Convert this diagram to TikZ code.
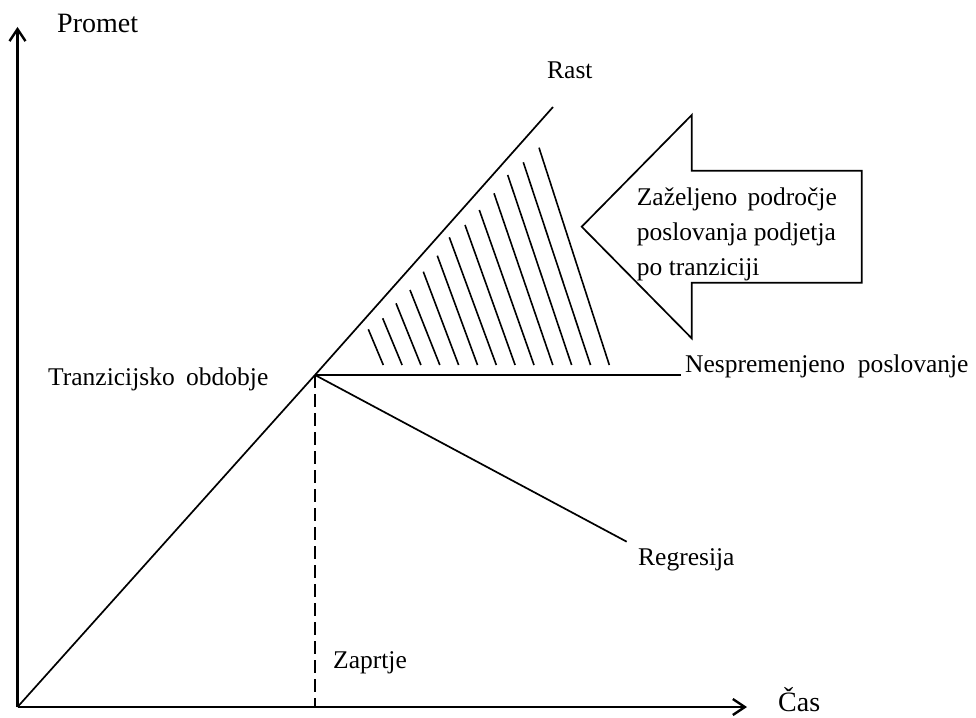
\documentclass[tikz,border=0pt]{standalone}
\usepackage{fontspec}
\setmainfont{Liberation Serif}
\usetikzlibrary{arrows.meta}
\begin{document}
\begin{tikzpicture}[x=1pt,y=-1pt,
  axis/.style={line width=2.6pt,-{Straight Barb[length=12pt,width=16pt,line width=2.4pt]}},
  curve/.style={line width=1.7pt},
  hatch/.style={line width=1.6pt},
  lbl/.style={anchor=base west,inner sep=0pt,font=\fontsize{25.5}{30}\selectfont},
  axlbl/.style={anchor=base west,inner sep=0pt,font=\fontsize{28}{32}\selectfont}]
\useasboundingbox (0,0) rectangle (976,717);

% key points of the chart
\coordinate (O) at (17.5,707);
\coordinate (Ytop) at (17.5,27);
\coordinate (Xend) at (747,707);
\coordinate (T) at (315,375);
\coordinate (Rend) at (553,107);
\coordinate (Nend) at (681,375);
\coordinate (Gend) at (626.7,541.7);
\coordinate (Zfoot) at (315,707);

% hatched region of growth
\foreach \xa/\ya/\xb in {368.3/329.3/383.3, 382.7/318.3/402.1, 396/303.3/420.9,
  410/290/439.8, 423.3/271.7/458.6, 437.3/255.7/477.5, 449.3/237.3/496.3,
  465/225/515.1, 479.3/210/534.0, 494/193.3/552.8, 507.7/175/571.6,
  523.3/162.3/590.5, 539/147.7/609.3}
  \draw[hatch] (\xa,\ya) -- (\xb,365);

% development paths after the transition
\draw[curve] (O) -- (T) -- (Rend);
\draw[curve] (T) -- (Nend);
\draw[curve] (T) -- (Gend);
\draw[line width=1.7pt,dash pattern=on 13pt off 6pt] (T) -- (Zfoot);

% axes
\draw[axis] (O) -- (Ytop);
\draw[axis] (O) -- (Xend);

% block arrow pointing at the desired area
\draw[line width=1.7pt,line join=miter] (581.7,226.7) -- (691.7,115) -- (691.7,170.7)
  -- (861.7,170.7) -- (861.7,282.7) -- (691.7,282.7) -- (691.7,338.3) -- cycle;
\node[lbl] (arrowa) at (636.7,205) {Zaželjeno\hspace{0.4em}področje};
\node[lbl] (arrowb) at (636.7,240) {poslovanja podjetja};
\node[lbl] (arrowc) at (636.7,275) {po tranziciji};

% labels
\node[axlbl] (promet) at (57,33) {Promet};
\node[axlbl] (cas) at (778,711) {Čas};
\node[lbl] (rast) at (547,78) {Rast};
\node[lbl] (tranz) at (48,385) {Tranzicijsko\hspace{0.45em}obdobje};
\node[lbl] (nespr) at (685,372) {Nespremenjeno\hspace{0.5em}poslovanje};
\node[lbl] (regr) at (638,565) {Regresija};
\node[lbl] (zapr) at (333,668) {Zaprtje};
\end{tikzpicture}
\end{document}
